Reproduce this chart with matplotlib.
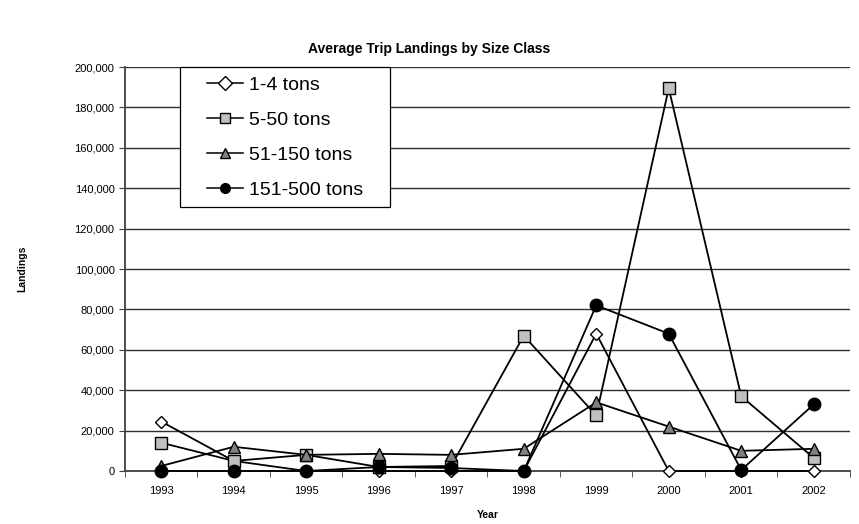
import matplotlib
matplotlib.use("Agg")
import matplotlib.pyplot as plt
from matplotlib.patches import Rectangle
from matplotlib.ticker import FuncFormatter, FixedLocator

years = ["1993", "1994", "1995", "1996", "1997", "1998", "1999", "2000", "2001", "2002"]
labels = ["1-4 tons", "5-50 tons", "51-150 tons", "151-500 tons"]

tons_1_4 = [24500, 5000, 0, 0, 0, 0, 68000, 0, 0, 0]
tons_5_50 = [14000, 5000, 8000, 2000, 2500, 67000, 27500, 189500, 37000, 6500]
tons_51_150 = [2500, 12000, 8000, 8500, 8000, 11000, 34000, 22000, 10000, 11000]
tons_151_500 = [0, 0, 0, 2000, 1500, 0, 82000, 68000, 500, 33000]

plt.rcParams['font.family'] = ['Liberation Sans', 'DejaVu Sans']

fig = plt.figure(figsize=(8.59, 5.24), dpi=100)
ax = fig.add_axes([0.1455, 0.1011, 0.8440, 0.7710])

x = list(range(len(years)))
ax.plot(x, tons_1_4, color='black', lw=1.3, marker='D', ms=6.5, mfc='white', mec='black', mew=1, label=labels[0], clip_on=False, zorder=3)
ax.plot(x, tons_5_50, color='black', lw=1.3, marker='s', ms=8.5, mfc='#c0c0c0', mec='black', mew=1, label=labels[1], clip_on=False, zorder=3)
ax.plot(x, tons_51_150, color='black', lw=1.3, marker='^', ms=9, mfc='#808080', mec='black', mew=1, label=labels[2], clip_on=False, zorder=3)
ax.plot(x, tons_151_500, color='black', lw=1.3, marker='o', ms=9, mfc='black', mec='black', mew=1, label=labels[3], clip_on=False, zorder=3)

ax.set_xlim(-0.5, 9.5)
ax.set_ylim(0, 200000)
ax.set_yticks(range(0, 200001, 20000))
ax.yaxis.set_major_formatter(FuncFormatter(lambda v, p: f"{int(v):,}"))
ax.set_xticks(x)
ax.set_xticklabels(years)
ax.tick_params(axis='x', which='major', length=0, labelsize=8, pad=11)
ax.xaxis.set_minor_locator(FixedLocator([i + 0.5 for i in range(-1, 10)]))
ax.tick_params(axis='x', which='minor', length=4, direction='out', color='#404040')
ax.tick_params(axis='y', length=4, direction='out', labelsize=8, color='#404040')

ax.grid(axis='y', color='#303030', lw=1)
ax.set_axisbelow(True)
for s in ['top', 'right']:
    ax.spines[s].set_visible(False)
ax.spines['left'].set_color('#404040')
ax.spines['bottom'].set_color('#404040')
ax.spines['left'].set_linewidth(1.3)
ax.spines['bottom'].set_linewidth(1.3)

ax.set_xlabel('Year', fontsize=7.5, fontweight='bold', labelpad=10)
ax.set_ylabel('Landings', fontsize=7.5, fontweight='bold', labelpad=34)
fig.suptitle('Average Trip Landings by Size Class', fontsize=10, fontweight='bold', y=0.92)

# legend box drawn by hand, entries placed inside it
ax.add_patch(Rectangle((0.0759, 0.653), 0.2896, 0.347, transform=ax.transAxes,
                       facecolor='white', edgecolor='black', lw=0.9, zorder=4, clip_on=False))
leg = ax.legend(loc='upper left', bbox_to_anchor=(0.113, 0.978), fontsize=14, frameon=False,
                borderpad=0, labelspacing=0.9, handlelength=1.85, handletextpad=0.3,
                borderaxespad=0)
leg.set_zorder(5)
for h in leg.legend_handles:
    h.set_markersize(7)
    h.set_linewidth(1.1)

fig.savefig('out.png', dpi=100)
